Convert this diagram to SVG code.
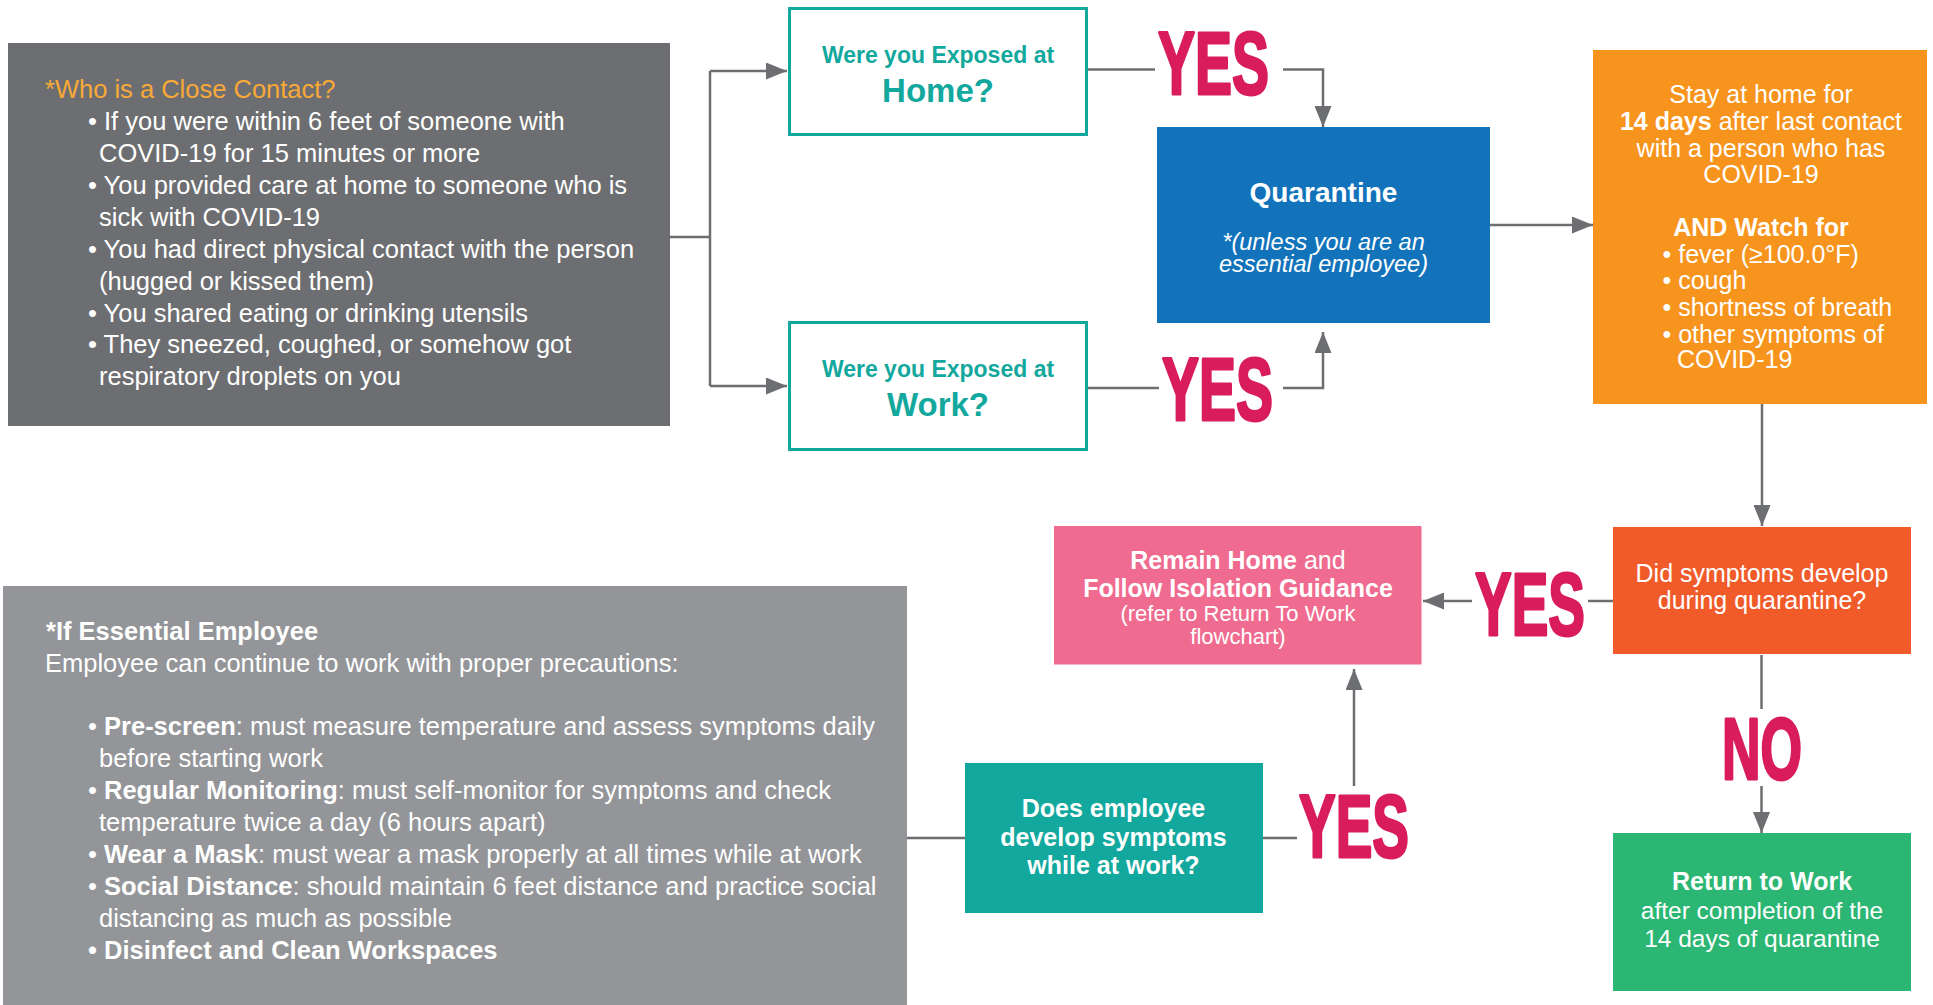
<svg xmlns="http://www.w3.org/2000/svg" width="1933" height="1005" viewBox="0 0 1933 1005">
<defs>
<marker id="arr" viewBox="0 0 21 17" refX="21" refY="8.5" markerWidth="21" markerHeight="17" markerUnits="userSpaceOnUse" orient="auto">
<path d="M0,0 L21,8.5 L0,17 z" fill="#6d6e71"/>
</marker>
<style>
.t{font-family:"Liberation Sans",Arial,sans-serif;fill:#fff}
.g{font-size:25.5px}
.s{font-size:25px}
.b{font-weight:bold}
.c{text-anchor:middle}
.yes{font-family:"Liberation Sans",Arial,sans-serif;font-weight:bold;fill:#d91c5c;stroke:#d91c5c;stroke-width:3;stroke-linejoin:round}
.ln{fill:none;stroke:#6d6e71;stroke-width:2.5}
.q{font-family:"Liberation Sans",Arial,sans-serif;fill:#13a89e;font-weight:bold;text-anchor:middle}
</style>
</defs>
<rect width="1933" height="1005" fill="#fff"/>

<g id="connectors">
<path class="ln" d="M670,237 H710 M710,71 V386"/>
<path class="ln" d="M710,71 H787" marker-end="url(#arr)"/>
<path class="ln" d="M710,386 H787" marker-end="url(#arr)"/>
<path class="ln" d="M1088,69.5 H1155"/>
<path class="ln" d="M1283,69.5 H1323 V127" marker-end="url(#arr)"/>
<path class="ln" d="M1088,388 H1159"/>
<path class="ln" d="M1283,388 H1323 V332" marker-end="url(#arr)"/>
<path class="ln" d="M1490,225 H1593" marker-end="url(#arr)"/>
<path class="ln" d="M1762,404 V526" marker-end="url(#arr)"/>
<path class="ln" d="M1613,601 H1588"/>
<path class="ln" d="M1472,601 H1423" marker-end="url(#arr)"/>
<path class="ln" d="M1761.5,655 V709"/>
<path class="ln" d="M1761.5,786 V833" marker-end="url(#arr)"/>
<path class="ln" d="M907,838 H965"/>
<path class="ln" d="M1263,838 H1297"/>
<path class="ln" d="M1354,786 V669" marker-end="url(#arr)"/>
</g>

<g id="labels">
<text class="yes" x="1158" y="93.5" font-size="89" textLength="111" lengthAdjust="spacingAndGlyphs">YES</text>
<text class="yes" x="1162" y="420" font-size="89" textLength="111" lengthAdjust="spacingAndGlyphs">YES</text>
<text class="yes" x="1475" y="634.5" font-size="89" textLength="110" lengthAdjust="spacingAndGlyphs">YES</text>
<text class="yes" x="1299" y="856.5" font-size="89" textLength="110" lengthAdjust="spacingAndGlyphs">YES</text>
<text class="yes" x="1722" y="778.5" font-size="87" textLength="80" lengthAdjust="spacingAndGlyphs">NO</text>
</g>

<g id="close-contact">
<rect x="8" y="43" width="662" height="383" fill="#6d6e71"/>
<text class="t g" x="45" y="98" fill="#f9a937" style="fill:#f9a937">*Who is a Close Contact?</text>
<text class="t g" x="88" y="130">• If you were within 6 feet of someone with</text>
<text class="t g" x="99" y="162">COVID-19 for 15 minutes or more</text>
<text class="t g" x="88" y="194">• You provided care at home to someone who is</text>
<text class="t g" x="99" y="226">sick with COVID-19</text>
<text class="t g" x="88" y="258">• You had direct physical contact with the person</text>
<text class="t g" x="99" y="290">(hugged or kissed them)</text>
<text class="t g" x="88" y="322">• You shared eating or drinking utensils</text>
<text class="t g" x="88" y="353">• They sneezed, coughed, or somehow got</text>
<text class="t g" x="99" y="385">respiratory droplets on you</text>
</g>

<g id="home">
<rect x="789.5" y="8.5" width="297" height="126" fill="#fff" stroke="#13a89e" stroke-width="3"/>
<text class="q" x="938" y="62.5" font-size="23">Were you Exposed at</text>
<text class="q" x="938" y="101.5" font-size="33">Home?</text>
</g>

<g id="work">
<rect x="789.5" y="322.5" width="297" height="127" fill="#fff" stroke="#13a89e" stroke-width="3"/>
<text class="q" x="938" y="376.5" font-size="23">Were you Exposed at</text>
<text class="q" x="938" y="416" font-size="33">Work?</text>
</g>

<g id="quarantine">
<rect x="1157" y="127" width="333" height="196" fill="#1273bb"/>
<text class="t b c" x="1323.5" y="201.5" font-size="28">Quarantine</text>
<text class="t c" x="1323.5" y="249.5" font-size="23.5" font-style="italic">*(unless you are an</text>
<text class="t c" x="1323.5" y="271.5" font-size="23.5" font-style="italic">essential employee)</text>
</g>

<g id="stay-home">
<rect x="1593" y="50" width="334" height="354" fill="#f7941d"/>
<text class="t s c" x="1761" y="103">Stay at home for</text>
<text class="t s c" x="1761" y="130"><tspan class="b">14 days</tspan> after last contact</text>
<text class="t s c" x="1761" y="156.5">with a person who has</text>
<text class="t s c" x="1761" y="182.5">COVID-19</text>
<text class="t s c b" x="1761" y="236">AND Watch for</text>
<text class="t s" x="1662.5" y="262.5">• fever (≥100.0°F)</text>
<text class="t s" x="1662.5" y="289">• cough</text>
<text class="t s" x="1662.5" y="316">• shortness of breath</text>
<text class="t s" x="1662.5" y="342.5">• other symptoms of</text>
<text class="t s" x="1677" y="368">COVID-19</text>
</g>

<g id="did-symptoms">
<rect x="1613" y="527" width="298" height="127" fill="#f15a29"/>
<text class="t s c" x="1762" y="581.5">Did symptoms develop</text>
<text class="t s c" x="1762" y="609">during quarantine?</text>
</g>

<g id="remain-home">
<rect x="1054" y="526" width="367.5" height="138.5" fill="#ef6b8f"/>
<text class="t s c" x="1238" y="569"><tspan class="b">Remain Home</tspan> and</text>
<text class="t s c b" x="1238" y="597">Follow Isolation Guidance</text>
<text class="t c" x="1238" y="621" font-size="22">(refer to Return To Work</text>
<text class="t c" x="1238" y="644" font-size="22">flowchart)</text>
</g>

<g id="return-to-work">
<rect x="1613" y="833" width="298" height="158" fill="#2bb673"/>
<text class="t s c b" x="1762" y="890">Return to Work</text>
<text class="t c" x="1762" y="919" font-size="24.5">after completion of the</text>
<text class="t c" x="1762" y="947" font-size="24.5">14 days of quarantine</text>
</g>

<g id="develop-at-work">
<rect x="965" y="763" width="298" height="150" fill="#13a89e"/>
<text class="t s c b" x="1113.5" y="817">Does employee</text>
<text class="t s c b" x="1113.5" y="846">develop symptoms</text>
<text class="t s c b" x="1113.5" y="874">while at work?</text>
</g>

<g id="essential-employee">
<rect x="3" y="586" width="904" height="419" fill="#939598"/>
<text class="t g b" x="46" y="640">*If Essential Employee</text>
<text class="t g" x="45" y="672">Employee can continue to work with proper precautions:</text>
<text class="t g" x="88" y="735">• <tspan class="b">Pre-screen</tspan>: must measure temperature and assess symptoms daily</text>
<text class="t g" x="99" y="767">before starting work</text>
<text class="t g" x="88" y="799">• <tspan class="b">Regular Monitoring</tspan>: must self-monitor for symptoms and check</text>
<text class="t g" x="99" y="831">temperature twice a day (6 hours apart)</text>
<text class="t g" x="88" y="863">• <tspan class="b">Wear a Mask</tspan>: must wear a mask properly at all times while at work</text>
<text class="t g" x="88" y="895">• <tspan class="b">Social Distance</tspan>: should maintain 6 feet distance and practice social</text>
<text class="t g" x="99" y="927">distancing as much as possible</text>
<text class="t g b" x="88" y="959">• Disinfect and Clean Workspaces</text>
</g>
</svg>
